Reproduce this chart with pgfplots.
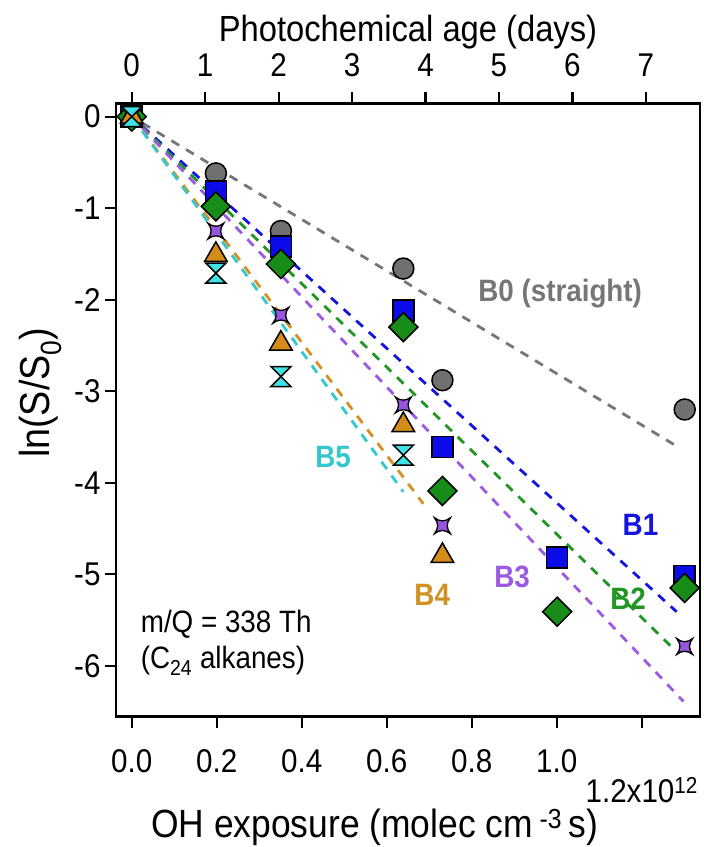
\documentclass[border=0pt]{standalone}
\usepackage{pgfplots}
\pgfplotsset{compat=1.18}
\usepackage{fontspec}
\setmainfont{Liberation Sans}[FakeStretch=0.9]

\definecolor{cgray}{RGB}{112,112,112}
\definecolor{cblue}{RGB}{12,12,235}
\definecolor{cgreen}{RGB}{24,140,24}
\definecolor{cpurple}{RGB}{150,85,220}
\definecolor{corange}{RGB}{212,140,24}
\definecolor{ccyan}{RGB}{64,224,228}
\definecolor{lgray}{RGB}{118,118,118}
\definecolor{lblue}{RGB}{20,20,225}
\definecolor{lgreen}{RGB}{34,150,34}
\definecolor{lpurple}{RGB}{155,90,225}
\definecolor{lorange}{RGB}{210,145,35}
\definecolor{lcyan}{RGB}{50,200,205}

\pgfdeclareplotmark{hourglass}{%
  \pgfpathmoveto{\pgfqpoint{-\pgfplotmarksize}{\pgfplotmarksize}}%
  \pgfpathlineto{\pgfqpoint{\pgfplotmarksize}{\pgfplotmarksize}}%
  \pgfpathlineto{\pgfqpoint{-\pgfplotmarksize}{-\pgfplotmarksize}}%
  \pgfpathlineto{\pgfqpoint{\pgfplotmarksize}{-\pgfplotmarksize}}%
  \pgfpathclose
  \pgfusepathqfillstroke}
\pgfdeclareplotmark{star4}{%
  \pgfpathmoveto{\pgfqpoint{\pgfplotmarksize}{\pgfplotmarksize}}%
  \pgfpathquadraticcurveto{\pgfqpoint{0.2\pgfplotmarksize}{0pt}}{\pgfqpoint{\pgfplotmarksize}{-\pgfplotmarksize}}%
  \pgfpathquadraticcurveto{\pgfqpoint{0pt}{-0.2\pgfplotmarksize}}{\pgfqpoint{-\pgfplotmarksize}{-\pgfplotmarksize}}%
  \pgfpathquadraticcurveto{\pgfqpoint{-0.2\pgfplotmarksize}{0pt}}{\pgfqpoint{-\pgfplotmarksize}{\pgfplotmarksize}}%
  \pgfpathquadraticcurveto{\pgfqpoint{0pt}{0.2\pgfplotmarksize}}{\pgfqpoint{\pgfplotmarksize}{\pgfplotmarksize}}%
  \pgfpathclose
  \pgfusepathqfillstroke}
\pgfdeclareplotmark{sqdiamond}{%
  \pgfpathmoveto{\pgfqpoint{0pt}{\pgfplotmarksize}}%
  \pgfpathlineto{\pgfqpoint{\pgfplotmarksize}{0pt}}%
  \pgfpathlineto{\pgfqpoint{0pt}{-\pgfplotmarksize}}%
  \pgfpathlineto{\pgfqpoint{-\pgfplotmarksize}{0pt}}%
  \pgfpathclose
  \pgfusepathqfillstroke}

\begin{document}
\begin{tikzpicture}
\path[use as bounding box] (-116bp,-130.3bp) rectangle (588bp,716.7bp);
\begin{axis}[
  scale only axis,
  width=584bp, height=613.4bp,
  at={(0,0)}, anchor=south west,
  xmin=-0.037, xmax=1.337,
  ymin=-6.557, ymax=0.146,
  clip=false,
  axis line style={line width=2.5bp},
  every tick/.style={line width=2.2bp, black},
  tick align=outside,
  major tick length=11bp,
  xtick pos=bottom, ytick pos=left,
  xtick={0,0.2,0.4,0.6,0.8,1.0,1.2},
  xticklabels={0.0,0.2,0.4,0.6,0.8,1.0,{}},
  ytick={-6,-5,-4,-3,-2,-1,0},
  yticklabels={-6,-5,-4,-3,-2,-1,0},
  tick label style={font=\fontsize{33}{38}\selectfont},
  xticklabel style={yshift=-18bp},
  yticklabel style={xshift=-1bp},
]
% B0
\addplot[only marks, mark=*, mark size=10.5bp, mark options={fill=cgray, draw=black, line width=1.5bp}]
  coordinates {(0,0) (0.198,-0.62) (0.351,-1.25) (0.639,-1.66) (0.731,-2.88) (1.301,-3.20)};
\addplot[lgray, line width=2.8bp, dash pattern=on 9bp off 8bp] coordinates {(0.025,-0.07) (1.282,-3.60)};
% B1
\addplot[only marks, mark=square*, mark size=10.5bp, mark options={fill=cblue, draw=black, line width=1.5bp}]
  coordinates {(0,0) (0.198,-0.82) (0.351,-1.42) (0.639,-2.12) (0.731,-3.61) (1.001,-4.82) (1.301,-5.02)};
\addplot[lblue, line width=2.8bp, dash pattern=on 9bp off 8bp] coordinates {(0.025,-0.105) (1.282,-5.41)};
% B2
\addplot[only marks, mark=sqdiamond, mark size=14.5bp, mark options={fill=cgreen, draw=black, line width=1.5bp}]
  coordinates {(0,0) (0.198,-0.98) (0.351,-1.61) (0.639,-2.30) (0.731,-4.09) (1.001,-5.41) (1.301,-5.15)};
\addplot[lgreen, line width=2.8bp, dash pattern=on 9bp off 8bp] coordinates {(0.025,-0.114) (1.278,-5.83)};
% B3
\addplot[only marks, mark=star4, mark size=8bp, mark options={fill=cpurple, draw=black, line width=1.3bp}]
  coordinates {(0,0) (0.198,-1.25) (0.351,-2.17) (0.639,-3.15) (0.731,-4.47) (1.301,-5.79)};
\addplot[lpurple, line width=2.8bp, dash pattern=on 9bp off 8bp] coordinates {(0.025,-0.123) (1.298,-6.39)};
% B4
\addplot[only marks, mark=triangle*, mark size=13bp, mark options={fill=corange, draw=black, line width=1.5bp}]
  coordinates {(0,0) (0.198,-1.51) (0.351,-2.48) (0.639,-3.37) (0.731,-4.80)};
\addplot[lorange, line width=2.8bp, dash pattern=on 9bp off 8bp] coordinates {(0.025,-0.154) (0.686,-4.23)};
% B5
\addplot[only marks, mark=hourglass, mark size=10bp, mark options={fill=ccyan, draw=black, line width=1.5bp}]
  coordinates {(0,0) (0.198,-1.71) (0.351,-2.84) (0.639,-3.70)};
\addplot[lcyan, line width=2.8bp, dash pattern=on 9bp off 8bp] coordinates {(0.025,-0.16) (0.639,-4.10)};

% labels
\node[text=lgray, font=\fontsize{31}{35}\selectfont\bfseries] at (axis cs:1.008,-1.93) {B0 (straight)};
\node[text=lblue, font=\fontsize{31}{35}\selectfont\bfseries] at (axis cs:1.197,-4.46) {B1};
\node[text=lgreen, font=\fontsize{31}{35}\selectfont\bfseries] at (axis cs:1.168,-5.27) {B2};
\node[text=lpurple, font=\fontsize{31}{35}\selectfont\bfseries] at (axis cs:0.895,-5.03) {B3};
\node[text=lorange, font=\fontsize{31}{35}\selectfont\bfseries] at (axis cs:0.707,-5.23) {B4};
\node[text=lcyan, font=\fontsize{31}{35}\selectfont\bfseries] at (axis cs:0.474,-3.72) {B5};
\node[anchor=base west, inner sep=0pt, font=\fontsize{31}{35}\selectfont] at (axis cs:0.021,-5.64) {m/Q = 338 Th};
\node[anchor=base west, inner sep=0pt, font=\fontsize{31}{35}\selectfont] at (axis cs:0.021,-6.03) {(C\textsubscript{24} alkanes)};

\node[anchor=base, inner sep=0pt, font=\fontsize{33}{38}\selectfont] at ({axis cs:1.2,0} |- {axis description cs:0,-0.140}) {1.2x10\textsuperscript{12}};
\node[font=\fontsize{39.5}{44}\selectfont] at (axis description cs:0.443,-0.180) {OH exposure (molec cm\,\textsuperscript{-3}\,s)};
\node[rotate=90, font=\fontsize{42}{46}\selectfont] at (axis description cs:-0.130,0.528) {ln(S/S\textsubscript{0})};
\end{axis}
\begin{axis}[
  scale only axis,
  width=584bp, height=613.4bp,
  at={(0,0)}, anchor=south west,
  xmin=-0.2141, xmax=7.737,
  ymin=0, ymax=1,
  axis x line*=top,
  axis y line=none,
  axis line style={line width=2.5bp, -},
  every tick/.style={line width=2.2bp, black},
  tick align=outside,
  major tick length=11bp,
  xtick={0,1,2,3,4,5,6,7},
  xticklabels={0,1,2,3,4,5,6,7},
  tick label style={font=\fontsize{33}{38}\selectfont},
  xticklabel style={yshift=12bp},
  xlabel={Photochemical age (days)},
  xlabel style={font=\fontsize{36.5}{40}\selectfont, yshift=-2bp},
]
\end{axis}
\end{tikzpicture}
\end{document}
